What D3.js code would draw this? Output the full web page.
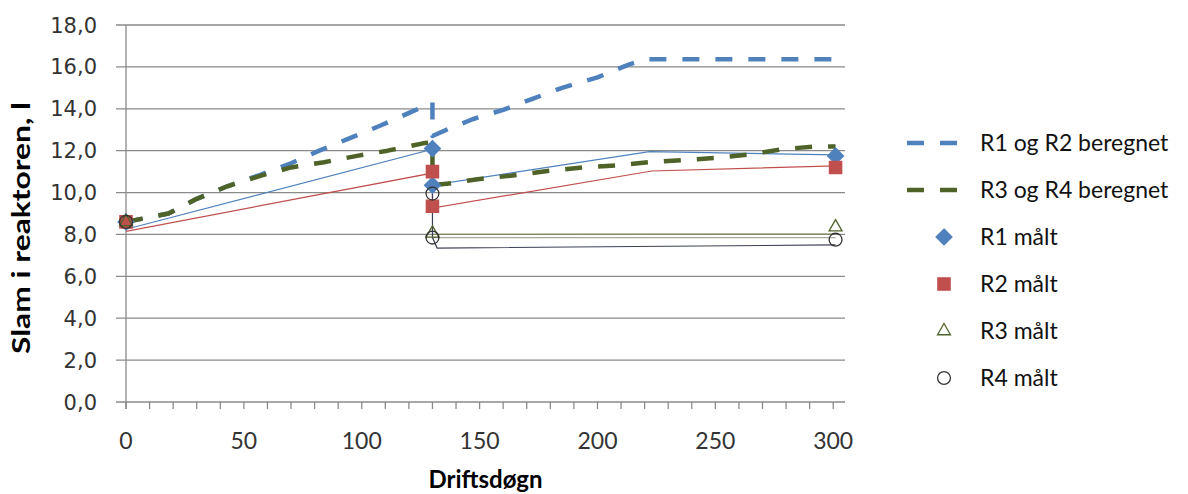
<!DOCTYPE html>
<html>
<head>
<meta charset="utf-8">
<script src="https://cdn.jsdelivr.net/npm/d3@7"></script>
<style>
  body { margin: 0; background: #fff; }
  svg { display: block; }
</style>
</head>
<body>
<div id="chart"></div>
<script>
// beregnet (dashed) series: [driftsdøgn, slam]
const r12Beregnet = [[0, 8.6], [18, 9.0], [30, 9.7], [43, 10.3], [57, 10.85], [70, 11.4], [82, 12.0], [95, 12.6], [108, 13.2], [122, 13.9], [130, 14.3], [130, 12.7], [136, 13.0], [147, 13.5], [160, 13.95], [173, 14.5], [185, 15.0], [200, 15.5], [213, 16.1], [220, 16.37], [301, 16.37]];
const r34Beregnet = [[0, 8.6], [18, 9.0], [30, 9.7], [43, 10.3], [57, 10.8], [70, 11.2], [84, 11.45], [98, 11.75], [111, 12.0], [126, 12.35], [130, 12.4], [130, 10.35], [138, 10.45], [150, 10.65], [163, 10.8], [180, 11.05], [194, 11.2], [208, 11.3], [222, 11.45], [236, 11.55], [250, 11.65], [265, 11.83], [279, 12.08], [293, 12.2], [301, 12.2]];

// thin unlabeled lines
const r1Linje = [[0, 8.25], [130, 12.07], [130, 10.36], [222, 11.95], [301, 11.8]];
const r2Linje = [[0, 8.15], [130, 10.93], [130, 9.26], [223, 11.03], [301, 11.27]];
const r3Linje = [[130, 8.0], [301, 8.02]];
const r3bLinje = [[130, 7.85], [301, 7.85]];
const r4Linje = [[130, 9.95], [130, 7.85], [132, 7.35], [301, 7.5]];

// målt (markers)
const r1Malt = [[0, 8.6], [130, 12.1], [130, 10.35], [301, 11.75]];
const r2Malt = [[0, 8.6], [130, 11.0], [130, 9.35], [301, 11.2]];
const r3Malt = [[0, 8.6], [130, 8.05], [301, 8.35]];
const r4Malt = [[0, 8.6], [130, 9.95], [130, 7.85], [301, 7.75]];

const yTicks = d3.range(0, 18.01, 2);
const xTicks = [0, 50, 100, 150, 200, 250, 300];
const legendItems = ["R1 og R2 beregnet", "R3 og R4 beregnet", "R1 målt", "R2 målt", "R3 målt", "R4 målt"];

const width = 1188, height = 494;
const margin = {top: 25, right: 343, bottom: 92, left: 126};

const blue = '#4F81BD', red = '#C0504D', olive = '#4F6228', grid = '#8a8a8a';

const svg = d3.select('#chart').append('svg')
  .attr('width', width)
  .attr('height', height);

const x = d3.scaleLinear().domain([0, 305]).range([margin.left, width - margin.right]);
const y = d3.scaleLinear().domain([0, 18]).range([height - margin.bottom, margin.top]);

// gridlines + y ticks
svg.append('g').selectAll('line').data(yTicks)
  .join('line')
  .attr('x1', margin.left - 10)
  .attr('x2', width - margin.right)
  .attr('y1', d => y(d)).attr('y2', d => y(d))
  .attr('stroke', grid).attr('stroke-width', 1.3);

svg.append('g').selectAll('text').data(yTicks)
  .join('text')
  .attr('x', 97)
  .attr('y', d => y(d))
  .attr('dy', '0.36em')
  .attr('text-anchor', 'end')
  .attr('font-family', 'DejaVu Sans')
  .attr('font-size', '21px')
  .attr('fill', '#333')
  .text(d => d.toFixed(1).replace('.', ','));

// y axis line
svg.append('line')
  .attr('x1', margin.left).attr('x2', margin.left)
  .attr('y1', margin.top).attr('y2', y(0) + 7)
  .attr('stroke', grid).attr('stroke-width', 1.3);

// x axis ticks (every 10)
svg.append('g').selectAll('line').data(d3.range(0, 301, 10))
  .join('line')
  .attr('x1', d => x(d)).attr('x2', d => x(d))
  .attr('y1', y(0)).attr('y2', y(0) + 7)
  .attr('stroke', grid).attr('stroke-width', 1.3);

svg.append('g').selectAll('text').data(xTicks)
  .join('text')
  .attr('x', d => x(d))
  .attr('y', 441)
  .attr('dy', '0.36em')
  .attr('text-anchor', 'middle')
  .attr('font-family', 'Lato')
  .attr('font-size', '23px')
  .attr('fill', '#333')
  .text(d => d);

// axis titles
svg.append('text')
  .attr('x', (x(0) + x(305)) / 2)
  .attr('y', 479)
  .attr('dy', '0.36em')
  .attr('text-anchor', 'middle')
  .attr('font-family', 'Lato')
  .attr('font-weight', 'bold')
  .attr('font-size', '24px')
  .text('Driftsdøgn');

svg.append('text')
  .attr('transform', `translate(21, ${228}) rotate(-90)`)
  .attr('dy', '0.36em')
  .attr('text-anchor', 'middle')
  .attr('font-family', 'Lato')
  .attr('font-weight', 'bold')
  .attr('font-size', '25px')
  .attr('textLength', 252)
  .attr('lengthAdjust', 'spacingAndGlyphs')
  .text('Slam i reaktoren, l');

const line = d3.line().x(d => x(d[0])).y(d => y(d[1]));

// thin lines
[[r1Linje, blue], [r2Linje, red], [r3Linje, '#7f8a5c'], [r3bLinje, '#a6a6a6'], [r4Linje, '#3b3f55']]
  .forEach(([data, c]) => {
    svg.append('path').datum(data)
      .attr('d', line)
      .attr('fill', 'none')
      .attr('stroke', c)
      .attr('stroke-width', 1.2);
  });

// dashed beregnet
[[r12Beregnet, blue], [r34Beregnet, olive]].forEach(([data, c]) => {
  svg.append('path').datum(data)
    .attr('d', line)
    .attr('fill', 'none')
    .attr('stroke', c)
    .attr('stroke-width', 4.5)
    .attr('stroke-dasharray', '17,16')
    .attr('stroke-linejoin', 'round');
});

// markers
const sym = {
  diamond: d3.symbol().type(d3.symbolDiamond2).size(160),
  square: d3.symbol().type(d3.symbolSquare).size(150),
  triangle: d3.symbol().type(d3.symbolTriangle2).size(120),
  circle: d3.symbol().type(d3.symbolCircle).size(130)
};
const markerStyle = [
  {data: r1Malt, s: sym.diamond, fill: blue, stroke: blue},
  {data: r2Malt, s: sym.square, fill: red, stroke: red},
  {data: r3Malt, s: sym.triangle, fill: 'none', stroke: '#4F6228'},
  {data: r4Malt, s: sym.circle, fill: 'none', stroke: '#333'}
];
markerStyle.forEach(m => {
  svg.append('g').selectAll('path').data(m.data)
    .join('path')
    .attr('transform', d => `translate(${x(d[0])},${y(d[1])})`)
    .attr('d', m.s)
    .attr('fill', m.fill)
    .attr('stroke', m.stroke)
    .attr('stroke-width', 1.3);
});

// legend
const lg = svg.append('g').selectAll('g').data(legendItems)
  .join('g')
  .attr('transform', (d, i) => `translate(0, ${143 + i * 47})`);

lg.filter((d, i) => i < 2).append('line')
  .attr('x1', 907).attr('x2', 958)
  .attr('stroke', (d, i) => i === 0 ? blue : olive)
  .attr('stroke-width', 4.5)
  .attr('stroke-dasharray', '17,16');

lg.filter((d, i) => i >= 2).append('path')
  .attr('transform', 'translate(944,0)')
  .attr('d', (d, i) => [sym.diamond, sym.square, sym.triangle, sym.circle][i]())
  .attr('fill', (d, i) => [blue, red, 'none', 'none'][i])
  .attr('stroke', (d, i) => [blue, red, '#4F6228', '#333'][i])
  .attr('stroke-width', 1.3);

lg.append('text')
  .attr('x', 980)
  .attr('dy', '0.36em')
  .attr('font-family', 'Lato')
  .attr('font-size', '23px')
  .attr('fill', '#111')
  .text(d => d);
</script>
</body>
</html>
